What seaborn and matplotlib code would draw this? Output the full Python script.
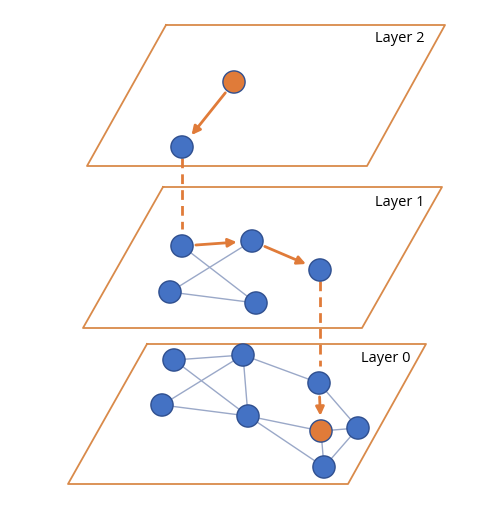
import matplotlib
matplotlib.use("Agg")
import matplotlib.pyplot as plt
import seaborn as sns
import pandas as pd

# pixel-space coordinates (y grows downwards)
layer_names = ["Layer 2", "Layer 1", "Layer 0"]
plane_top_y = [25, 187, 344]
plane_bot_y = [166, 328, 484]
plane_top_x = [(166, 445), (163, 442), (147, 426)]
plane_bot_x = [(87, 367), (83, 362), (68, 348)]
label_xy = [(400, 39), (400, 203), (386, 358)]

node_ids = ["a2", "b2",
            "a1", "b1", "c1", "d1", "e1",
            "n1", "n2", "n3", "n4", "n5", "n6", "n7", "n8"]
node_x = [234, 182,
          182, 252, 320, 170, 256,
          174, 243, 319, 162, 248, 321, 358, 324]
node_y = [82, 147,
          246, 241, 270, 292, 303,
          360, 355, 383, 405, 416, 431, 428, 467]
node_kind = ["hit", "node",
             "node", "node", "node", "node", "node",
             "node", "node", "node", "node", "node", "hit", "node", "node"]

graph_edges = [("a1", "e1"), ("b1", "d1"), ("d1", "e1"),
               ("n1", "n2"), ("n1", "n5"), ("n2", "n4"), ("n2", "n5"),
               ("n2", "n3"), ("n4", "n5"), ("n5", "n6"), ("n5", "n8"),
               ("n3", "n7"), ("n6", "n7"), ("n6", "n8"), ("n7", "n8")]
search_steps = [("a2", "b2"), ("a1", "b1"), ("b1", "c1"), ("n3", "n6")]
layer_drops = [("b2", "a1"), ("c1", "n3")]

orange = "#E07B39"
line_orange = "#D98A4A"
blue = "#4472C4"
blue_edge = "#2F4F8F"
edge_gray = "#9AA8C8"

nodes = pd.DataFrame({"id": node_ids, "x": node_x, "y": node_y, "kind": node_kind})
pos = {r.id: (r.x, r.y) for r in nodes.itertuples()}

fig, ax = plt.subplots(figsize=(5, 5.05), dpi=100)
fig.subplots_adjust(0, 0, 1, 1)

# layer planes
for i, name in enumerate(layer_names):
    xs = [plane_top_x[i][0], plane_top_x[i][1], plane_bot_x[i][1], plane_bot_x[i][0], plane_top_x[i][0]]
    ys = [plane_top_y[i], plane_top_y[i], plane_bot_y[i], plane_bot_y[i], plane_top_y[i]]
    ax.plot(xs, ys, color=line_orange, lw=1.3, zorder=1)
    ax.text(label_xy[i][0], label_xy[i][1], name, ha="center", va="center",
            fontsize=10.5, family=["Open Sans", "DejaVu Sans"], color="black")

# graph links
for u, v in graph_edges:
    ax.plot([pos[u][0], pos[v][0]], [pos[u][1], pos[v][1]], color=edge_gray, lw=1, zorder=2)

# dashed drops between layers
for u, v in layer_drops:
    ax.plot([pos[u][0], pos[u][0]], [pos[u][1] + 11, pos[v][1] - 17],
            color=orange, lw=2, ls=(0, (3.5, 2.2)), zorder=2)

# greedy search arrows
for u, v in search_steps:
    ax.annotate("", xy=pos[v], xytext=pos[u],
                arrowprops=dict(arrowstyle="-|>,head_length=0.5,head_width=0.25",
                                color=orange, lw=2, shrinkA=10, shrinkB=11),
                zorder=3)

sns.scatterplot(data=nodes, x="x", y="y", hue="kind",
                palette={"node": blue, "hit": orange},
                s=255, edgecolor=blue_edge, linewidth=1, legend=False, ax=ax, zorder=4)

ax.set_xlim(0, 500)
ax.set_ylim(505, 0)
ax.set_axis_off()
fig.savefig("out.png", dpi=100)
